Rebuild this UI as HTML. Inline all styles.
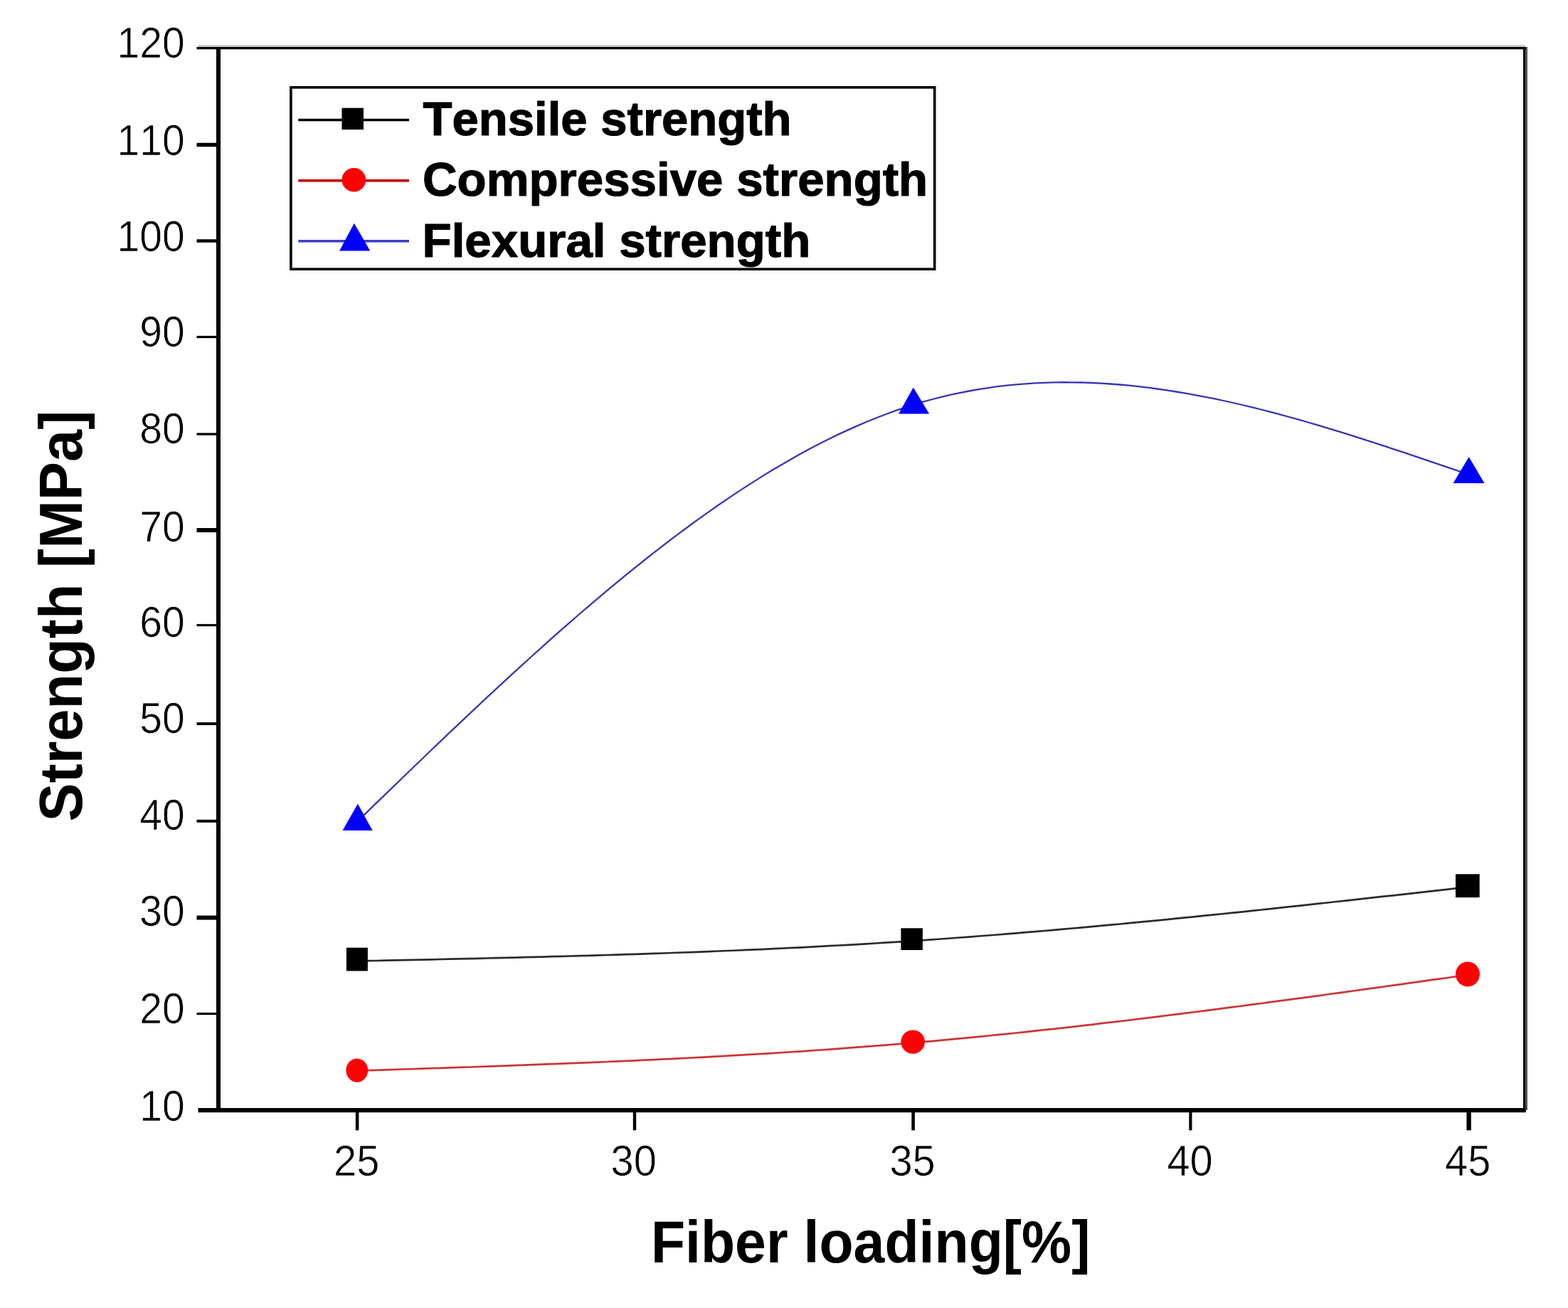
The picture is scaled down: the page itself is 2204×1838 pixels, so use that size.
<!DOCTYPE html>
<html lang="en"><head><meta charset="utf-8"><title>Strength vs Fiber loading</title>
<style>html,body{margin:0;padding:0;background:#fff}body{width:2204px;height:1838px;overflow:hidden}svg{display:block}text{font-kerning:none;font-family:"Liberation Sans",sans-serif;fill:#000}.b{font-weight:bold}</style>
</head><body>
<svg width="2204" height="1838" viewBox="0 0 2204 1838">
<rect x="0" y="0" width="2204" height="1838" fill="#fff"/>
<g id="axes">
<rect x="279.00" y="63.00" width="1865.00" height="3.00" fill="#ccc"/>
<rect x="276.50" y="66.00" width="1870.50" height="3.30" fill="#000"/>
<rect x="2144.50" y="66.00" width="2.50" height="1494.00" fill="#555"/>
<rect x="2141.00" y="66.00" width="3.50" height="1497.00" fill="#000"/>
<rect x="304.00" y="66.00" width="6.00" height="1497.00" fill="#000"/>
<rect x="278.50" y="1557.00" width="1866.00" height="6.20" fill="#000"/>
<rect x="276.50" y="1422.90" width="27.50" height="3.20" fill="#000"/>
<rect x="276.50" y="1286.50" width="27.50" height="6.00" fill="#000"/>
<rect x="276.50" y="1151.80" width="27.50" height="4.00" fill="#000"/>
<rect x="276.50" y="1015.00" width="27.50" height="4.00" fill="#000"/>
<rect x="276.50" y="876.90" width="27.50" height="3.20" fill="#000"/>
<rect x="276.50" y="742.00" width="27.50" height="6.00" fill="#000"/>
<rect x="276.50" y="608.40" width="27.50" height="3.20" fill="#000"/>
<rect x="276.50" y="471.90" width="27.50" height="3.20" fill="#000"/>
<rect x="276.50" y="336.25" width="27.50" height="4.50" fill="#000"/>
<rect x="276.50" y="200.75" width="27.50" height="5.50" fill="#000"/>
<rect x="499.80" y="1563.00" width="4.60" height="25.30" fill="#000"/>
<rect x="889.80" y="1563.00" width="4.40" height="25.30" fill="#000"/>
<rect x="1281.30" y="1563.00" width="4.60" height="25.30" fill="#000"/>
<rect x="1671.30" y="1563.00" width="4.20" height="25.30" fill="#000"/>
<rect x="2061.40" y="1563.00" width="6.40" height="25.30" fill="#000"/>
</g>
<g id="ylabels" font-size="61.6" stroke="#fff" stroke-width="0.7">
<text transform="translate(259.6,1574.5) scale(0.925,1)" text-anchor="end">10</text>
<text transform="translate(259.6,1437.9) scale(0.925,1)" text-anchor="end">20</text>
<text transform="translate(259.6,1300.9) scale(0.925,1)" text-anchor="end">30</text>
<text transform="translate(259.6,1166.4) scale(0.925,1)" text-anchor="end">40</text>
<text transform="translate(259.6,1029.5) scale(0.925,1)" text-anchor="end">50</text>
<text transform="translate(259.6,894.9) scale(0.925,1)" text-anchor="end">60</text>
<text transform="translate(259.6,760.6) scale(0.925,1)" text-anchor="end">70</text>
<text transform="translate(259.6,623.1) scale(0.925,1)" text-anchor="end">80</text>
<text transform="translate(259.6,486.6) scale(0.925,1)" text-anchor="end">90</text>
<text transform="translate(259.6,352.6) scale(0.925,1)" text-anchor="end">100</text>
<text transform="translate(259.6,218.0) scale(0.925,1)" text-anchor="end">110</text>
<text transform="translate(259.6,80.9) scale(0.925,1)" text-anchor="end">120</text>
</g>
<g id="xlabels" font-size="61.6" stroke="#fff" stroke-width="0.7">
<text transform="translate(501.2,1651.8) scale(0.940,1)" text-anchor="middle">25</text>
<text transform="translate(890.8,1651.8) scale(0.940,1)" text-anchor="middle">30</text>
<text transform="translate(1282.6,1651.8) scale(0.940,1)" text-anchor="middle">35</text>
<text transform="translate(1672.6,1651.8) scale(0.940,1)" text-anchor="middle">40</text>
<text transform="translate(2063.2,1651.8) scale(0.940,1)" text-anchor="middle">45</text>
</g>
<text class="b" font-size="83.0" transform="translate(914.9,1774.0) scale(0.9500,1)">Fiber loading[%]</text>
<text class="b" font-size="86.0" transform="translate(114.8,1154.5) rotate(-90) scale(0.9449,1)">Strength [MPa]</text>
<g id="series" fill="none" stroke-linejoin="round">
<path d="M502.2,1350.5 L515.2,1350.2 L528.2,1350.0 L541.2,1349.7 L554.2,1349.4 L567.2,1349.1 L580.2,1348.8 L593.2,1348.6 L606.2,1348.3 L619.2,1348.0 L632.2,1347.7 L645.3,1347.4 L658.3,1347.1 L671.3,1346.8 L684.3,1346.5 L697.3,1346.2 L710.3,1345.9 L723.3,1345.6 L736.3,1345.2 L749.3,1344.9 L762.3,1344.6 L775.3,1344.2 L788.3,1343.9 L801.3,1343.5 L814.3,1343.2 L827.3,1342.8 L840.3,1342.4 L853.3,1342.0 L866.3,1341.6 L879.3,1341.2 L892.3,1340.8 L905.4,1340.4 L918.4,1339.9 L931.4,1339.5 L944.4,1339.0 L957.4,1338.5 L970.4,1338.1 L983.4,1337.6 L996.4,1337.1 L1009.4,1336.5 L1022.4,1336.0 L1035.4,1335.5 L1048.4,1334.9 L1061.4,1334.3 L1074.4,1333.8 L1087.4,1333.2 L1100.4,1332.5 L1113.4,1331.9 L1126.4,1331.3 L1139.4,1330.6 L1152.5,1329.9 L1165.5,1329.2 L1178.5,1328.5 L1191.5,1327.8 L1204.5,1327.1 L1217.5,1326.3 L1230.5,1325.5 L1243.5,1324.7 L1256.5,1323.9 L1269.5,1323.1 L1282.5,1322.2 L1295.7,1321.3 L1309.0,1320.4 L1322.2,1319.5 L1335.5,1318.5 L1348.7,1317.5 L1362.0,1316.6 L1375.2,1315.5 L1388.5,1314.5 L1401.7,1313.5 L1415.0,1312.4 L1428.2,1311.3 L1441.4,1310.2 L1454.7,1309.1 L1467.9,1308.0 L1481.2,1306.9 L1494.4,1305.7 L1507.7,1304.5 L1520.9,1303.3 L1534.2,1302.1 L1547.4,1300.9 L1560.7,1299.7 L1573.9,1298.5 L1587.2,1297.2 L1600.4,1295.9 L1613.6,1294.7 L1626.9,1293.4 L1640.1,1292.1 L1653.4,1290.7 L1666.6,1289.4 L1679.9,1288.1 L1693.1,1286.7 L1706.4,1285.4 L1719.6,1284.0 L1732.9,1282.6 L1746.1,1281.3 L1759.3,1279.9 L1772.6,1278.5 L1785.8,1277.1 L1799.1,1275.7 L1812.3,1274.2 L1825.6,1272.8 L1838.8,1271.4 L1852.1,1269.9 L1865.3,1268.5 L1878.6,1267.0 L1891.8,1265.6 L1905.1,1264.1 L1918.3,1262.7 L1931.5,1261.2 L1944.8,1259.7 L1958.0,1258.3 L1971.3,1256.8 L1984.5,1255.3 L1997.8,1253.8 L2011.0,1252.3 L2024.3,1250.9 L2037.5,1249.4 L2050.8,1247.9 L2064.0,1246.4" stroke="#2b2b2b" stroke-width="2.7"/>
<path d="M502.2,1504.6 L515.2,1504.2 L528.2,1503.8 L541.2,1503.3 L554.2,1502.9 L567.2,1502.5 L580.2,1502.1 L593.2,1501.6 L606.2,1501.2 L619.2,1500.8 L632.2,1500.3 L645.3,1499.9 L658.3,1499.5 L671.3,1499.0 L684.3,1498.6 L697.3,1498.1 L710.3,1497.6 L723.3,1497.2 L736.3,1496.7 L749.3,1496.2 L762.3,1495.7 L775.3,1495.2 L788.3,1494.7 L801.3,1494.2 L814.3,1493.6 L827.3,1493.1 L840.3,1492.6 L853.3,1492.0 L866.3,1491.4 L879.3,1490.9 L892.3,1490.3 L905.4,1489.7 L918.4,1489.1 L931.4,1488.4 L944.4,1487.8 L957.4,1487.1 L970.4,1486.5 L983.4,1485.8 L996.4,1485.1 L1009.4,1484.4 L1022.4,1483.7 L1035.4,1482.9 L1048.4,1482.2 L1061.4,1481.4 L1074.4,1480.6 L1087.4,1479.8 L1100.4,1479.0 L1113.4,1478.1 L1126.4,1477.3 L1139.4,1476.4 L1152.5,1475.5 L1165.5,1474.6 L1178.5,1473.7 L1191.5,1472.7 L1204.5,1471.7 L1217.5,1470.7 L1230.5,1469.7 L1243.5,1468.7 L1256.5,1467.6 L1269.5,1466.5 L1282.5,1465.4 L1295.7,1464.2 L1309.0,1463.1 L1322.2,1461.9 L1335.5,1460.6 L1348.7,1459.4 L1362.0,1458.1 L1375.2,1456.8 L1388.5,1455.5 L1401.7,1454.2 L1415.0,1452.8 L1428.2,1451.5 L1441.4,1450.1 L1454.7,1448.6 L1467.9,1447.2 L1481.2,1445.8 L1494.4,1444.3 L1507.7,1442.8 L1520.9,1441.3 L1534.2,1439.8 L1547.4,1438.2 L1560.7,1436.7 L1573.9,1435.1 L1587.2,1433.5 L1600.4,1431.9 L1613.6,1430.3 L1626.9,1428.7 L1640.1,1427.0 L1653.4,1425.4 L1666.6,1423.7 L1679.9,1422.0 L1693.1,1420.4 L1706.4,1418.6 L1719.6,1416.9 L1732.9,1415.2 L1746.1,1413.5 L1759.3,1411.7 L1772.6,1410.0 L1785.8,1408.2 L1799.1,1406.4 L1812.3,1404.7 L1825.6,1402.9 L1838.8,1401.1 L1852.1,1399.3 L1865.3,1397.5 L1878.6,1395.6 L1891.8,1393.8 L1905.1,1392.0 L1918.3,1390.2 L1931.5,1388.3 L1944.8,1386.5 L1958.0,1384.6 L1971.3,1382.8 L1984.5,1380.9 L1997.8,1379.1 L2011.0,1377.2 L2024.3,1375.4 L2037.5,1373.5 L2050.8,1371.7 L2064.0,1369.8" stroke="#cc3535" stroke-width="2.7"/>
<path d="M502.2,1154.4 L515.2,1141.8 L528.2,1129.2 L541.2,1116.6 L554.2,1104.1 L567.2,1091.5 L580.2,1079.0 L593.2,1066.5 L606.2,1054.0 L619.2,1041.6 L632.2,1029.2 L645.3,1016.9 L658.3,1004.6 L671.3,992.4 L684.3,980.2 L697.3,968.1 L710.3,956.1 L723.3,944.2 L736.3,932.3 L749.3,920.5 L762.3,908.8 L775.3,897.2 L788.3,885.7 L801.3,874.3 L814.3,863.0 L827.3,851.8 L840.3,840.8 L853.3,829.9 L866.3,819.1 L879.3,808.4 L892.3,797.9 L905.4,787.5 L918.4,777.2 L931.4,767.1 L944.4,757.2 L957.4,747.4 L970.4,737.8 L983.4,728.4 L996.4,719.1 L1009.4,710.0 L1022.4,701.1 L1035.4,692.4 L1048.4,683.9 L1061.4,675.6 L1074.4,667.4 L1087.4,659.5 L1100.4,651.9 L1113.4,644.4 L1126.4,637.1 L1139.4,630.1 L1152.5,623.3 L1165.5,616.8 L1178.5,610.4 L1191.5,604.4 L1204.5,598.6 L1217.5,593.0 L1230.5,587.7 L1243.5,582.7 L1256.5,577.9 L1269.5,573.4 L1282.5,569.2 L1295.7,565.2 L1309.0,561.5 L1322.2,558.1 L1335.5,554.9 L1348.7,552.1 L1362.0,549.5 L1375.2,547.1 L1388.5,545.1 L1401.7,543.2 L1415.0,541.7 L1428.2,540.3 L1441.4,539.3 L1454.7,538.4 L1467.9,537.8 L1481.2,537.4 L1494.4,537.2 L1507.7,537.3 L1520.9,537.5 L1534.2,538.0 L1547.4,538.6 L1560.7,539.5 L1573.9,540.5 L1587.2,541.7 L1600.4,543.1 L1613.6,544.7 L1626.9,546.5 L1640.1,548.4 L1653.4,550.5 L1666.6,552.7 L1679.9,555.1 L1693.1,557.6 L1706.4,560.2 L1719.6,563.0 L1732.9,566.0 L1746.1,569.0 L1759.3,572.2 L1772.6,575.5 L1785.8,578.9 L1799.1,582.4 L1812.3,586.0 L1825.6,589.7 L1838.8,593.5 L1852.1,597.4 L1865.3,601.3 L1878.6,605.3 L1891.8,609.4 L1905.1,613.6 L1918.3,617.8 L1931.5,622.1 L1944.8,626.4 L1958.0,630.8 L1971.3,635.2 L1984.5,639.7 L1997.8,644.1 L2011.0,648.6 L2024.3,653.2 L2037.5,657.7 L2050.8,662.2 L2064.0,666.8" stroke="#3636b4" stroke-width="2.3"/>
</g>
<g id="markers">
<rect x="486.90" y="1331.70" width="30.00" height="32.70" fill="#000"/>
<rect x="1266.40" y="1304.30" width="30.50" height="30.70" fill="#000"/>
<rect x="2046.00" y="1228.30" width="33.70" height="32.80" fill="#000"/>
<ellipse cx="501.8" cy="1504.1" rx="15.4" ry="16.6" fill="#f00"/>
<ellipse cx="1283.2" cy="1464.1" rx="16.8" ry="16.6" fill="#f00"/>
<ellipse cx="2063.0" cy="1368.9" rx="17.0" ry="17.5" fill="#f00"/>
<polygon points="502.9,1129.5 523.6,1166.9 481.6,1166.9" fill="#00f"/>
<polygon points="1283.8,544.5 1306.2,581.4 1263.1,581.4" fill="#00f"/>
<polygon points="2064.7,642.0 2086.5,679.0 2042.6,679.0" fill="#00f"/>
</g>
<g id="legend">
<rect x="408.90" y="122.80" width="904.80" height="255.40" fill="#fff" stroke="#000" stroke-width="3.6"/>
<rect x="419.30" y="166.80" width="155.70" height="3.50" fill="#000"/>
<rect x="419.30" y="252.00" width="155.70" height="3.60" fill="#c00000"/>
<rect x="419.30" y="337.00" width="155.70" height="3.60" fill="#4040c8"/>
<rect x="480.50" y="151.70" width="30.50" height="30.40" fill="#000"/>
<ellipse cx="497.4" cy="252.8" rx="16.9" ry="16.7" fill="#f00"/>
<polygon points="497.8,313.8 520.3,352.4 477.1,352.4" fill="#00f"/>
<text class="b" font-size="67.5" stroke="#000" stroke-width="1.2" stroke-linejoin="round" transform="translate(594.6,190.3) scale(0.9937,1)">Tensile strength</text>
<text class="b" font-size="67.5" stroke="#000" stroke-width="1.2" stroke-linejoin="round" transform="translate(594.0,275.4) scale(0.9967,1)">Compressive strength</text>
<text class="b" font-size="67.5" stroke="#000" stroke-width="1.2" stroke-linejoin="round" transform="translate(593.6,360.9) scale(0.9965,1)">Flexural strength</text>
</g>
</svg>
</body></html>
